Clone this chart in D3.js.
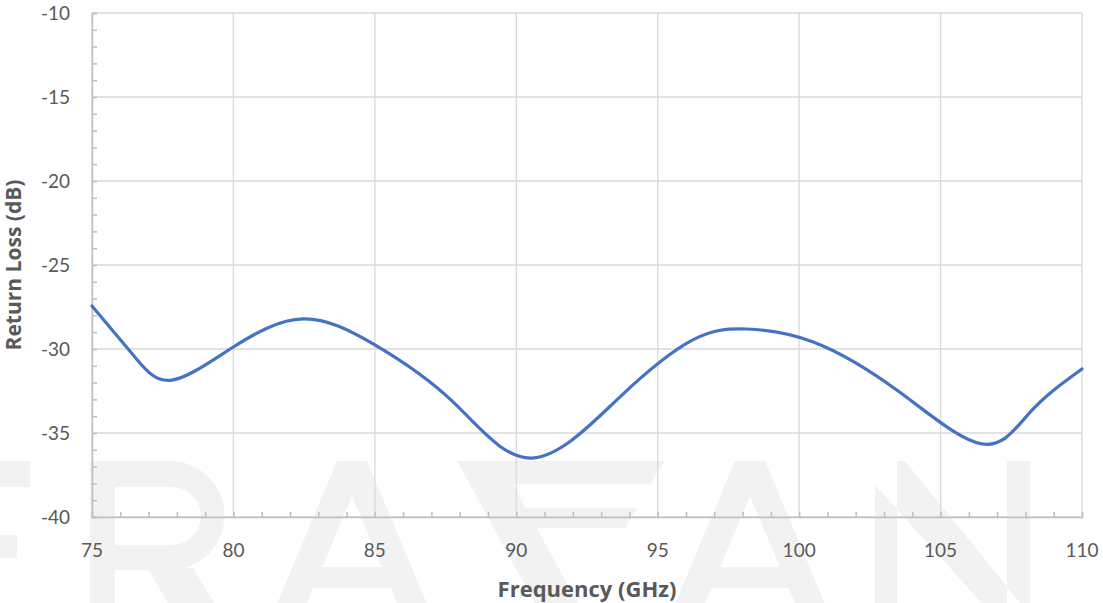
<!DOCTYPE html>
<html><head><meta charset="utf-8">
<script src="https://cdn.jsdelivr.net/npm/d3@7"></script>
<style>body{margin:0;background:#fff}svg{display:block}</style>
</head><body>
<script>
const freqGHz = [75,76.5,77.83,80,82.46,85,87.8,90.55,93.66,96.24,98.15,100.5,103.5,106.46,108.2,110];
const returnLossDb = [-27.44,-30.45,-31.85,-29.88,-28.21,-29.76,-33.21,-36.49,-32.86,-29.46,-28.81,-29.58,-32.5,-35.65,-33.7,-31.19];
const xTicks = [75,80,85,90,95,100,105,110];
const yTicks = [-10,-15,-20,-25,-30,-35,-40];
const xTitle = "Frequency (GHz)";
const yTitle = "Return Loss (dB)";

const W = 1103, H = 603;
const m = {left:92, right:21, top:13, bottom:86};
const svg = d3.select("body").append("svg").attr("width",W).attr("height",H);

// background watermark (decorative logo letters)
const wm = svg.append("g").attr("fill","#f2f2f2").attr("fill-rule","evenodd");
const T = 461, B = 640;
wm.append("path").attr("d",`M0,${T}H30V487H0Z M0,535H17V558H0Z`);
wm.append("path").attr("d",`M90,${T}H170A54.5,54.5 0 0 1 170,570H115V${B}H90Z M115,487H172A29,29 0 0 1 172,545H115Z`);
wm.append("path").attr("d",`M147,568H193L236,${B}H190Z`);
function aPath(cx){
  const s=0.42, hw=15;
  const ob = hw + s*(B-T);
  const yi = T + 35;
  const dx = yy => s*(yy-yi);
  return `M${cx-hw},${T}H${cx+hw}L${cx+ob},${B}H${cx-ob}Z`+
         ` M${cx},${yi}L${cx+dx(567)},567H${cx-dx(567)}Z`+
         ` M${cx-dx(588)},588H${cx+dx(588)}L${cx+dx(B)},${B}H${cx-dx(B)}Z`;
}
wm.append("path").attr("d",aPath(352));
wm.append("path").attr("d",aPath(750));
wm.append("path").attr("d",`M457,${T}H665L650,484H498Z`);
wm.append("path").attr("d",`M457,${T}H500L598,${B}H555Z`);
wm.append("path").attr("d",`M510,508H637L625,528H521Z`);
wm.append("path").attr("d",`M875,${T}H897V${B}H875Z M1007,${T}H1030V${B}H1007Z M875,${T}H905L1030,615V${B}H1015L875,485Z`);

const x = d3.scaleLinear().domain([75,110]).range([m.left, W-m.right]);
const y = d3.scaleLinear().domain([-40,-10]).range([H-m.bottom, m.top]);

// grid
const g = svg.append("g");
g.selectAll("line.vg").data(xTicks).join("line")
  .attr("x1",d=>x(d)).attr("x2",d=>x(d)).attr("y1",y(-10)).attr("y2",y(-40))
  .attr("stroke","#d9d9d9").attr("stroke-width",1.3);
g.selectAll("line.hg").data(yTicks).join("line")
  .attr("x1",x(75)).attr("x2",x(110)).attr("y1",d=>y(d)).attr("y2",d=>y(d))
  .attr("stroke","#d9d9d9").attr("stroke-width",1.3);

// axes with minor ticks
const xAxis = d3.axisBottom(x).tickValues(d3.range(75,111,1)).tickSize(-5).tickFormat("");
const yAxis = d3.axisLeft(y).tickValues(d3.range(-40,-9,1)).tickSize(-5).tickFormat("");
const ax = svg.append("g").attr("transform",`translate(0,${y(-40)})`).call(xAxis);
const ay = svg.append("g").attr("transform",`translate(${x(75)},0)`).call(yAxis);
[ax,ay].forEach(a=>{a.selectAll("path,line").attr("stroke","#bfbfbf").attr("stroke-width",1.5);});

// tick labels
svg.selectAll("text.xl").data(xTicks).join("text").attr("class","xl")
  .attr("x",d=>x(d)).attr("y",y(-40)+40).attr("text-anchor","middle")
  .attr("fill","#595959").style("font-family","Lato").style("font-size","19px").text(d=>d);
svg.selectAll("text.yl").data(yTicks).join("text").attr("class","yl")
  .attr("x",x(75)-22).attr("y",d=>y(d)+7).attr("text-anchor","end")
  .attr("fill","#595959").style("font-family","Lato").style("font-size","19px").text(d=>d);

// titles
svg.append("text").attr("x",(x(75)+x(110))/2).attr("y",597).attr("text-anchor","middle")
  .attr("fill","#595959").style("font-family","Open Sans").style("font-weight","bold").style("font-size","22px").text(xTitle);
svg.append("text").attr("transform",`translate(21,${(y(-10)+y(-40))/2}) rotate(-90)`).attr("text-anchor","middle")
  .attr("fill","#595959").style("font-family","Open Sans").style("font-weight","bold").style("font-size","21px").text(yTitle);

// line
const line = d3.line().x((d,i)=>x(freqGHz[i])).y(d=>y(d)).curve(d3.curveNatural);
svg.append("path").datum(returnLossDb).attr("d",line).attr("fill","none")
  .attr("stroke","#4472c4").attr("stroke-width",3.2).attr("stroke-linecap","round");
</script>
</body></html>
